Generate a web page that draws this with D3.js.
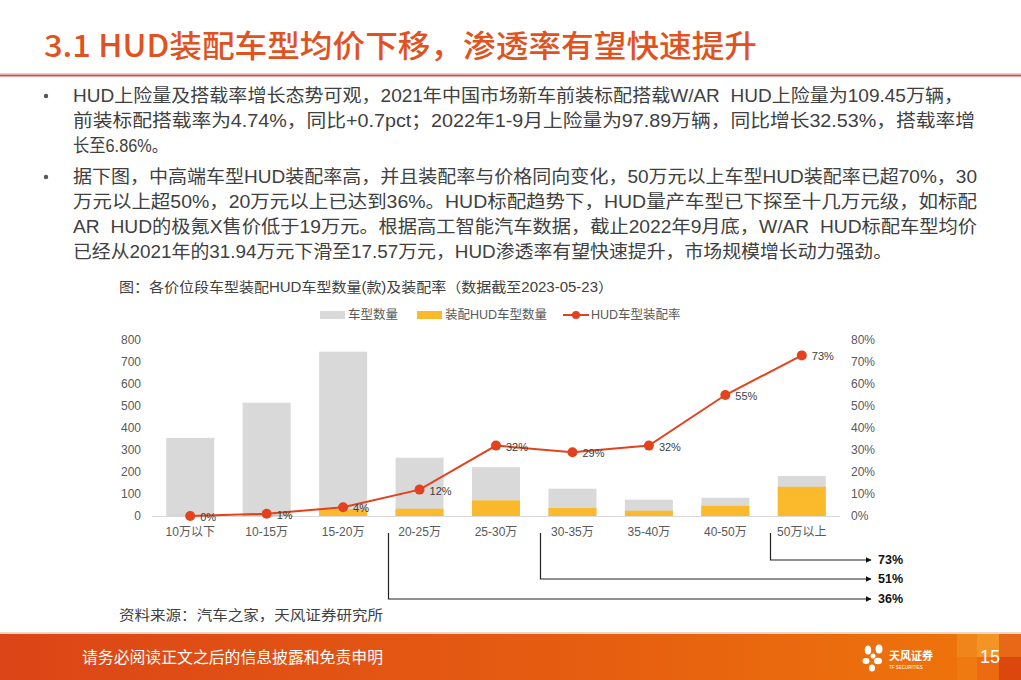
<!DOCTYPE html>
<html><head><meta charset="utf-8">
<script src="https://cdn.jsdelivr.net/npm/d3@7"></script>
<style>
html,body{margin:0;padding:0;background:#fff;}
svg{display:block;}
text.pre{white-space:pre;}
</style></head>
<body>
<svg id="c" width="1021" height="680"></svg>
<script>
// ---------- data ----------
const categories = ["10万以下","10-15万","15-20万","20-25万","25-30万","30-35万","35-40万","40-50万","50万以上"];
const totalModels = [355, 515, 747, 265, 222, 124, 74, 83, 182];
const hudModels   = [1, 5, 31, 33, 71, 36, 24, 46, 133];
const hudRate     = [0.00, 0.01, 0.04, 0.12, 0.32, 0.29, 0.32, 0.55, 0.73];
const rateLabels  = ["0%","1%","4%","12%","32%","29%","32%","55%","73%"];
const leftTicks   = [0,100,200,300,400,500,600,700,800];
const rightTicks  = [0,0.1,0.2,0.3,0.4,0.5,0.6,0.7,0.8];
const bracketFrom = ["50万以上","30-35万","20-25万"];
const bracketText = ["73%","51%","36%"];

const titleText = "3.1 HUD装配车型均价下移，渗透率有望快速提升";
const paragraphs = [
  ["HUD上险量及搭载率增长态势可观，2021年中国市场新车前装标配搭载W/AR  HUD上险量为109.45万辆，",
   "前装标配搭载率为4.74%，同比+0.7pct；2022年1-9月上险量为97.89万辆，同比增长32.53%，搭载率增",
   "长至6.86%。"],
  ["据下图，中高端车型HUD装配率高，并且装配率与价格同向变化，50万元以上车型HUD装配率已超70%，30",
   "万元以上超50%，20万元以上已达到36%。HUD标配趋势下，HUD量产车型已下探至十几万元级，如标配",
   "AR  HUD的极氪X售价低于19万元。根据高工智能汽车数据，截止2022年9月底，W/AR  HUD标配车型均价",
   "已经从2021年的31.94万元下滑至17.57万元，HUD渗透率有望快速提升，市场规模增长动力强劲。"]
];
const lineWidths = [[890, 902, 95],[904, 904, 904, 819]];
const chartTitle = "图：各价位段车型装配HUD车型数量(款)及装配率（数据截至2023-05-23）";
const legendNames = ["车型数量","装配HUD车型数量","HUD车型装配率"];
const sourceText = "资料来源：汽车之家，天风证券研究所";
const footerText = "请务必阅读正文之后的信息披露和免责申明";
const pageNum = "15";

// ---------- styles ----------
const FONT = "'Liberation Sans','Noto Sans CJK SC',sans-serif";
const GRAY = "#D9D9D9", ORANGE = "#FBBA2C", RED = "#E2431E", TXT = "#404040", AX = "#595959";

const svg = d3.select("#c");

// defs
const defs = svg.append("defs");
const g1 = defs.append("linearGradient").attr("id","foot").attr("x1","0").attr("x2","1");
g1.append("stop").attr("offset","0%").attr("stop-color","#DC4517");
g1.append("stop").attr("offset","60%").attr("stop-color","#E65F10");
g1.append("stop").attr("offset","100%").attr("stop-color","#EF760A");
defs.append("marker").attr("id","arr").attr("viewBox","0 0 10 10").attr("refX",9).attr("refY",5)
  .attr("markerWidth",6).attr("markerHeight",6).attr("orient","auto").attr("markerUnits","userSpaceOnUse")
  .append("path").attr("d","M0,0L10,5L0,10z").attr("fill","#111");

// ---------- header ----------
svg.append("text").attr("x",44).attr("y",43).attr("dominant-baseline","central")
  .attr("font-family","'Noto Sans CJK SC',sans-serif").attr("font-weight",500).attr("font-size",31)
  .attr("fill","#E0531F").attr("textLength",713).attr("lengthAdjust","spacingAndGlyphs").text(titleText);
svg.append("line").attr("x1",0).attr("x2",1021).attr("y1",73.5).attr("y2",73.5).attr("stroke","#F3C9C6").attr("stroke-width",1);
svg.append("line").attr("x1",0).attr("x2",1021).attr("y1",75.5).attr("y2",75.5).attr("stroke","#C9534B").attr("stroke-width",2);

// ---------- bullet paragraphs ----------
const lineY = [[96,121,146],[177,202,227,252]];
paragraphs.forEach((p,pi)=>{
  svg.append("circle").attr("cx",46).attr("cy",lineY[pi][0]).attr("r",2.2).attr("fill","#555");
  p.forEach((t,li)=>{
    svg.append("text").attr("class","pre").attr("x",73).attr("y",lineY[pi][li]).attr("dominant-baseline","central")
      .attr("font-family",FONT).attr("font-size",18).attr("fill",TXT)
      .attr("textLength",lineWidths[pi][li]).attr("lengthAdjust","spacingAndGlyphs").text(t);
  });
});

// chart title
svg.append("text").attr("x",119).attr("y",287).attr("dominant-baseline","central")
  .attr("font-family",FONT).attr("font-size",14).attr("fill",TXT)
  .attr("textLength",494).attr("lengthAdjust","spacingAndGlyphs").text(chartTitle);

// ---------- legend ----------
const lg = svg.append("g").attr("font-family",FONT).attr("font-size",12.5).attr("fill",AX);
lg.append("rect").attr("x",320).attr("y",311).attr("width",25).attr("height",8).attr("fill",GRAY);
lg.append("text").attr("x",348).attr("y",315).attr("dominant-baseline","central").text(legendNames[0]);
lg.append("rect").attr("x",417).attr("y",311).attr("width",25).attr("height",8).attr("fill",ORANGE);
lg.append("text").attr("x",445).attr("y",315).attr("dominant-baseline","central").text(legendNames[1]);
lg.append("line").attr("x1",563).attr("x2",589).attr("y1",315).attr("y2",315).attr("stroke",RED).attr("stroke-width",2);
lg.append("circle").attr("cx",576).attr("cy",315).attr("r",4).attr("fill",RED);
lg.append("text").attr("x",591).attr("y",315).attr("dominant-baseline","central").text(legendNames[2]);

// ---------- scales ----------
const x = d3.scaleBand().domain(categories).range([152,840]).paddingInner(0.372).paddingOuter(0.186);
const yL = d3.scaleLinear().domain([0,800]).range([516,340]);
const yR = d3.scaleLinear().domain([0,0.8]).range([516,340]);

// axes
const axL = svg.append("g").attr("transform","translate(141,0)")
  .call(d3.axisLeft(yL).tickValues(leftTicks).tickSize(0).tickPadding(0).tickFormat(d3.format("d")));
const axR = svg.append("g").attr("transform","translate(851,0)")
  .call(d3.axisRight(yR).tickValues(rightTicks).tickSize(0).tickPadding(0).tickFormat(d3.format(".0%")));
[axL,axR].forEach(a=>{
  a.select(".domain").remove();
  a.selectAll("text").attr("font-family",FONT).attr("font-size",12).attr("fill",AX);
});

// bars
const bars = svg.append("g");
bars.selectAll("rect.t").data(categories).join("rect").attr("class","t")
  .attr("x",d=>x(d)).attr("width",x.bandwidth())
  .attr("y",(d,i)=>yL(totalModels[i])).attr("height",(d,i)=>yL(0)-yL(totalModels[i])).attr("fill",GRAY);
bars.selectAll("rect.h").data(categories).join("rect").attr("class","h")
  .attr("x",d=>x(d)).attr("width",x.bandwidth())
  .attr("y",(d,i)=>yL(hudModels[i])).attr("height",(d,i)=>yL(0)-yL(hudModels[i])).attr("fill",ORANGE);

// baseline
svg.append("line").attr("x1",152).attr("x2",840).attr("y1",516.5).attr("y2",516.5).attr("stroke","#D9D9D9").attr("stroke-width",1);

// x axis labels
const axX = svg.append("g").attr("transform","translate(0,527)")
  .call(d3.axisBottom(x).tickSize(0).tickPadding(0));
axX.select(".domain").remove();
axX.selectAll("text").attr("font-family",FONT).attr("font-size",12).attr("fill",AX);

// line
const cx = (d,i)=>x(categories[i])+x.bandwidth()/2;
const lineGen = d3.line().x((d,i)=>cx(d,i)).y(d=>yR(d));
svg.append("path").datum(hudRate).attr("d",lineGen).attr("fill","none").attr("stroke",RED).attr("stroke-width",2);
svg.selectAll("circle.pt").data(hudRate).join("circle").attr("class","pt")
  .attr("cx",cx).attr("cy",d=>yR(d)).attr("r",5).attr("fill",RED);
svg.selectAll("text.lbl").data(hudRate).join("text").attr("class","lbl")
  .attr("x",(d,i)=>cx(d,i)+10).attr("y",d=>yR(d)+1).attr("dominant-baseline","central")
  .attr("font-family",FONT).attr("font-size",11).attr("fill",TXT).text((d,i)=>rateLabels[i]);

// ---------- brackets ----------
const bY = [560, 579, 599];
const br = svg.append("g");
bracketFrom.forEach((c,i)=>{
  const bx = Math.round(x(c) - 8) + 0.5;
  br.append("path").attr("d",`M${bx},533V${bY[i]}H871`).attr("fill","none")
    .attr("stroke","#222").attr("stroke-width",1.2).attr("marker-end","url(#arr)");
  br.append("text").attr("x",878).attr("y",bY[i]).attr("dominant-baseline","central")
    .attr("font-family",FONT).attr("font-weight","bold").attr("font-size",12.5).attr("fill","#111").text(bracketText[i]);
});

// source
svg.append("text").attr("x",119).attr("y",615).attr("dominant-baseline","central")
  .attr("font-family",FONT).attr("font-size",14).attr("fill",TXT)
  .attr("textLength",264).attr("lengthAdjust","spacingAndGlyphs").text(sourceText);

// ---------- footer ----------
svg.append("rect").attr("x",0).attr("y",634).attr("width",1021).attr("height",46).attr("fill","url(#foot)");
svg.append("rect").attr("x",0).attr("y",632).attr("width",1021).attr("height",2).attr("fill","#F4D6C8");
const sq = [[957,634,20,23,"#F08A1F"],[977,634,22,23,"#F59A2C"],[999,634,22,23,"#E8661A"],
            [957,657,20,23,"#F07B14"],[977,657,22,23,"#EC6A12"],[999,657,22,23,"#D8400F"]];
sq.forEach(s=>svg.append("rect").attr("x",s[0]).attr("y",s[1]).attr("width",s[2]).attr("height",s[3]).attr("fill",s[4]).attr("opacity",0.85));
svg.append("text").attr("x",82).attr("y",657).attr("dominant-baseline","central")
  .attr("font-family",FONT).attr("font-size",16).attr("fill","#fff")
  .attr("textLength",301).attr("lengthAdjust","spacingAndGlyphs").text(footerText);
svg.append("text").attr("x",990).attr("y",657).attr("dominant-baseline","central").attr("text-anchor","middle")
  .attr("font-family",FONT).attr("font-size",18).attr("fill","#fff").text(pageNum);
// logo
const logo = svg.append("g").attr("fill","#fff");
[[868,650,3.2,4.5],[879,649,3.5,4.5],[866,661,3.5,3],[878,661,4,3.2],[872,668,3,3.5],[873,656,2.5,2.5]]
  .forEach(e=>logo.append("ellipse").attr("cx",e[0]).attr("cy",e[1]).attr("rx",e[2]).attr("ry",e[3]));
logo.append("text").attr("x",889).attr("y",655).attr("dominant-baseline","central")
  .attr("font-family","'Noto Sans CJK SC',sans-serif").attr("font-weight","bold").attr("font-size",11).text("天风证券");
logo.append("text").attr("x",889).attr("y",667).attr("dominant-baseline","central")
  .attr("font-family",FONT).attr("font-size",4.5).text("TF SECURITIES");
</script>
</body></html>
